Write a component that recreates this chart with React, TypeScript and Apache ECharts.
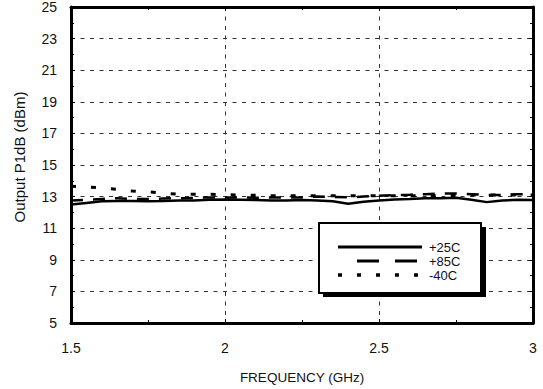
import React, { useEffect, useRef } from "react";
import * as echarts from "echarts";

const freq = [1.5, 1.55, 1.6, 1.65, 1.7, 1.75, 1.8, 1.85, 1.9, 1.95, 2.0, 2.05, 2.1, 2.15, 2.2, 2.25, 2.3, 2.35, 2.4, 2.45, 2.5, 2.55, 2.6, 2.65, 2.7, 2.75, 2.8, 2.85, 2.9, 2.95, 3.0];
const p25 = [12.5, 12.6, 12.7, 12.72, 12.72, 12.7, 12.72, 12.75, 12.75, 12.8, 12.82, 12.8, 12.78, 12.75, 12.75, 12.78, 12.75, 12.7, 12.55, 12.68, 12.75, 12.82, 12.85, 12.9, 12.9, 12.92, 12.8, 12.65, 12.75, 12.8, 12.78];
const p85 = [12.75, 12.8, 12.85, 12.9, 12.85, 12.85, 12.88, 12.9, 12.92, 12.95, 12.95, 12.95, 12.93, 12.95, 12.95, 12.95, 13.0, 12.98, 12.95, 13.0, 13.05, 13.1, 13.12, 13.15, 13.2, 13.2, 13.15, 13.1, 13.1, 13.15, 13.15];
const m40 = [13.65, 13.62, 13.55, 13.45, 13.35, 13.3, 13.22, 13.15, 13.15, 13.15, 13.12, 13.1, 13.08, 13.05, 13.05, 13.05, 13.05, 13.05, 13.05, 13.05, 13.05, 13.05, 13.05, 13.05, 13.08, 13.1, 13.1, 13.1, 13.1, 13.1, 13.1];
const seriesNames = ["+25C", "+85C", "-40C"];
const xTitle = "FREQUENCY (GHz)";
const yTitle = "Output P1dB (dBm)";

const FONT = "Liberation Sans, Arial, sans-serif";

export default function App() {
  const ref = useRef<HTMLDivElement>(null);
  useEffect(() => {
    if (!ref.current) return;
    const chart = echarts.init(ref.current, null, { renderer: "svg" });
    const pair = (ys: number[]) => freq.map((f, i) => [f, ys[i]]);
    const axisCommon = {
      axisLine: { show: true, onZero: false, lineStyle: { color: "#000", width: 3 } },
      axisTick: { show: true, inside: true, length: 4, lineStyle: { color: "#000", width: 1 } },
      minorTick: { show: true, splitNumber: 2, length: 3, lineStyle: { color: "#000", width: 1 } },
    };
    const gridLine = { show: true, lineStyle: { color: "#333", width: 1, type: [4, 5.5] as any } };
    const lx = 338, lx2 = 422;
    const legendFont = `13px ${FONT}`;
    chart.setOption({
      animation: false,
      backgroundColor: "#fff",
      grid: { left: 71, right: 10, top: 6, bottom: 66 },
      xAxis: [
        {
          type: "value", min: 1.5, max: 3, interval: 0.5, position: "bottom",
          ...axisCommon,
          splitLine: gridLine,
          axisLabel: { color: "#111", fontSize: 14, fontFamily: FONT, margin: 18 },
          name: xTitle, nameLocation: "middle", nameGap: 47,
          nameTextStyle: { color: "#111", fontSize: 13.5, fontFamily: FONT },
        },
        {
          type: "value", min: 1.5, max: 3, interval: 0.5, position: "top",
          ...axisCommon,
          splitLine: { show: false },
          axisLabel: { show: false },
        },
      ],
      yAxis: [
        {
          type: "value", min: 5, max: 25, interval: 2, position: "left",
          ...axisCommon,
          splitLine: gridLine,
          axisLabel: { color: "#111", fontSize: 14, fontFamily: FONT, margin: 14 },
          name: yTitle, nameLocation: "middle", nameGap: 44,
          nameTextStyle: { color: "#111", fontSize: 15, fontFamily: FONT, padding: [0, 0, 0, 16] },
        },
        {
          type: "value", min: 5, max: 25, interval: 2, position: "right",
          ...axisCommon,
          splitLine: { show: false },
          axisLabel: { show: false },
        },
      ],
      series: [
        { name: seriesNames[0], type: "line", data: pair(p25), showSymbol: false, smooth: false,
          lineStyle: { color: "#000", width: 2.5, type: "solid" } },
        { name: seriesNames[1], type: "line", data: pair(p85), showSymbol: false,
          lineStyle: { color: "#000", width: 2.5, type: [12, 10] as any } },
        { name: seriesNames[2], type: "line", data: pair(m40), showSymbol: false,
          lineStyle: { color: "#000", width: 3, type: [5, 15] as any } },
      ],
      graphic: [
        { type: "rect", shape: { x: 323, y: 227, width: 163, height: 70 }, style: { fill: "#000" }, z: 100 },
        { type: "rect", shape: { x: 319, y: 223, width: 162, height: 70 }, style: { fill: "#fff", stroke: "#000", lineWidth: 2 }, z: 101 },
        { type: "line", shape: { x1: lx, y1: 247, x2: lx2, y2: 247 }, style: { stroke: "#000", lineWidth: 3 }, z: 102 },
        { type: "line", shape: { x1: 357, y1: 261, x2: lx2 - 4, y2: 261 }, style: { stroke: "#000", lineWidth: 3, lineDash: [22, 16] }, z: 102 },
        { type: "line", shape: { x1: lx, y1: 275, x2: lx2, y2: 275 }, style: { stroke: "#000", lineWidth: 3.5, lineDash: [4, 15] }, z: 102 },
        { type: "text", x: 429, y: 247, style: { text: seriesNames[0], fill: "#111", font: legendFont, verticalAlign: "middle" }, z: 102 },
        { type: "text", x: 429, y: 261, style: { text: seriesNames[1], fill: "#111", font: legendFont, verticalAlign: "middle" }, z: 102 },
        { type: "text", x: 429, y: 275, style: { text: seriesNames[2], fill: "#111", font: legendFont, verticalAlign: "middle" }, z: 102 },
      ],
    });
    return () => chart.dispose();
  }, []);
  return <div ref={ref} style={{ width: 543, height: 389, position: "absolute", left: 0, top: 0 }} />;
}
